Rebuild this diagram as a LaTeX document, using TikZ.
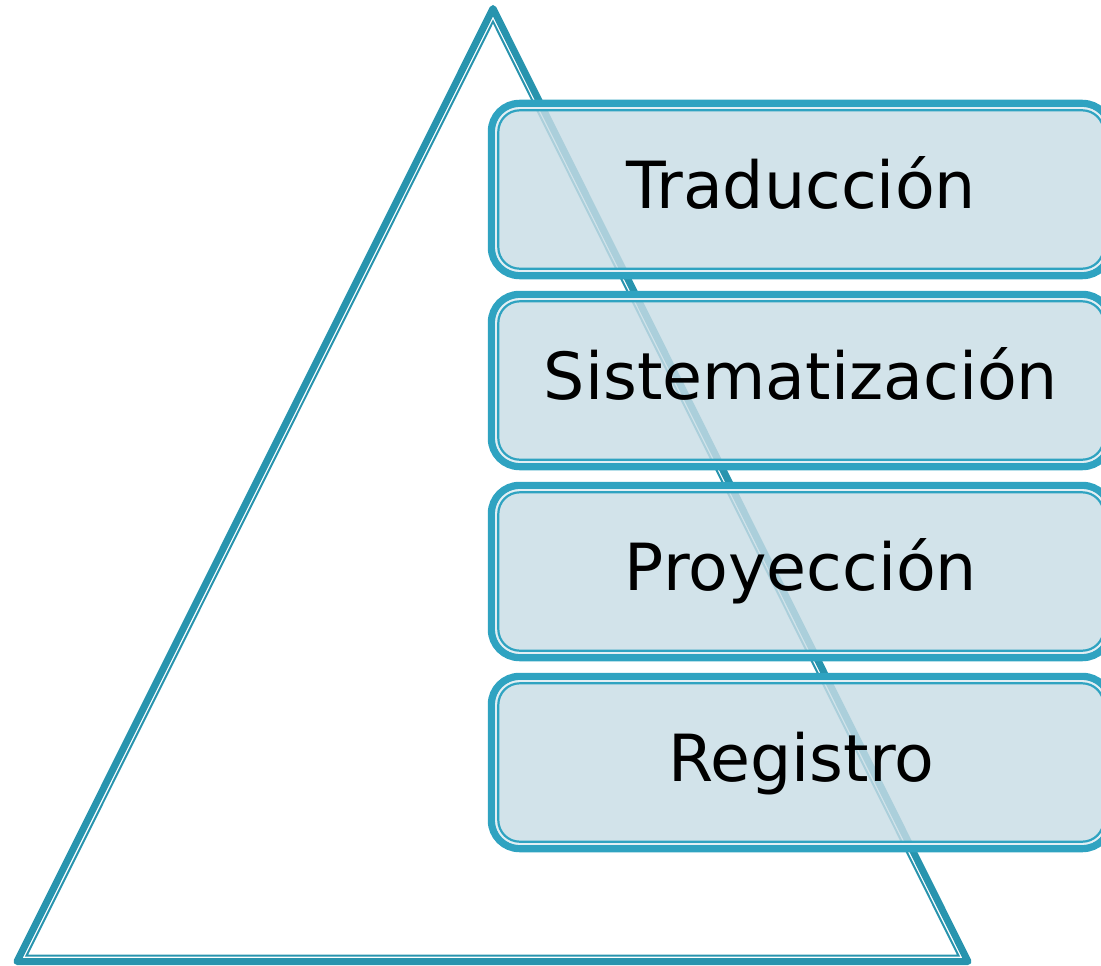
\documentclass[tikz,border=0pt]{standalone}
\usepackage{fontspec}
\setmainfont{DejaVu Sans}
\definecolor{tricol}{RGB}{40,148,174}
\definecolor{brdcol}{RGB}{47,163,193}
\definecolor{boxfill}{RGB}{200,221,229}
\definecolor{gapcol}{RGB}{226,239,244}
\tikzset{
  triout/.style={draw=tricol, line width=7pt, line join=round},
  triin/.style={draw=tricol, line width=2pt, line join=miter},
  stagebox/.style={rectangle, draw=brdcol, line width=7.5pt, rounded corners=28pt,
    fill=boxfill, fill opacity=0.82, draw opacity=1, text opacity=1,
    minimum width=619pt, minimum height=172pt, outer sep=0pt, inner sep=0pt,
    text height=50pt, text depth=13pt, font=\fontsize{65pt}{70pt}\selectfont, text=black},
  gapline/.style={draw=gapcol, line width=2.2pt, rounded corners=23.5pt},
  thinline/.style={draw=brdcol, line width=2.2pt, rounded corners=21.5pt}
}
\begin{document}
\begin{tikzpicture}[x=1pt,y=-1pt]
\useasboundingbox (0,0) rectangle (1101,966);
\clip (0,0) rectangle (1101,966);
% triangle
\coordinate (A) at (493,8.5);
\coordinate (L) at (17,961.5);
\coordinate (R) at (968,961.5);
\coordinate (Ai) at (493,21.5);
\coordinate (Li) at (26.5,955.7);
\coordinate (Ri) at (958.5,955.7);
\draw[triout] (A) -- (R) -- (L) -- cycle;
\draw[triin] (Ai) -- (Ri) -- (Li) -- cycle;
% boxes
\foreach \name/\yc/\txt in {b1/189.5/Traducción, b2/380.5/Sistematización, b3/571.5/Proyección, b4/762.5/Registro}{
  \node[stagebox] (\name) at (801,\yc) {\txt};
  \draw[gapline] ([shift={(4.7,4.7)}]\name.north west) rectangle ([shift={(-4.7,-4.7)}]\name.south east);
  \draw[thinline] ([shift={(6.8,6.8)}]\name.north west) rectangle ([shift={(-6.8,-6.8)}]\name.south east);
}
\end{tikzpicture}
\end{document}
